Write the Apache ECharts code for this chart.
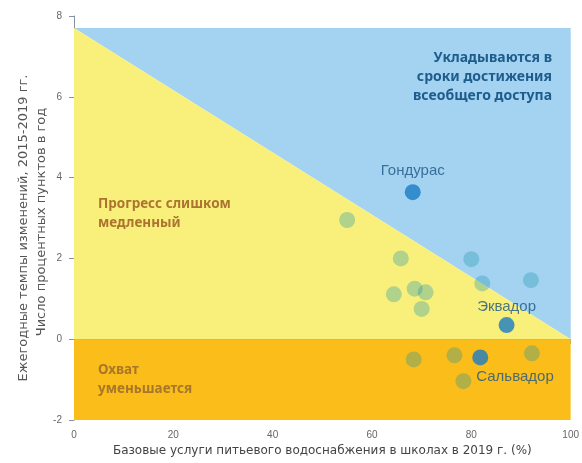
<!DOCTYPE html>
<html>
<head>
<meta charset="utf-8">
<script src="https://cdn.jsdelivr.net/npm/echarts@6/dist/echarts.min.js"></script>
<style>
	html, body { margin: 0; padding: 0; background: #fff; }
	#chart { width: 582px; height: 463px; }
</style>
</head>
<body>
<div id="chart"></div>
<script>
// zones (x = coverage %, y = annual change)
var zoneOnTrack = [[0, 7.7], [100, 7.7], [100, 0]];
var zoneSlow = [[0, 7.7], [100, 0], [0, 0]];
var zoneDecline = [[0, 0], [100, 0], [100, -2], [0, -2]];

// other countries
var otherPoints = [
	[55, 2.95], [65.8, 2.0], [64.4, 1.11], [68.6, 1.25], [70.8, 1.16], [70, 0.75],
	[80, 1.98], [82.2, 1.38], [92, 1.46],
	[68.4, -0.5], [76.6, -0.4], [78.4, -1.04], [92.2, -0.35]
];

// highlighted countries
var highlightNames = ['Гондурас', 'Эквадор', 'Сальвадор'];
var highlightValues = [[68.2, 3.64], [87.1, 0.35], [81.8, -0.45]];

var myChart = echarts.init(document.getElementById('chart'));

function zoneSeries(points, color) {
	return {
		type: 'custom',
		silent: true,
		z: 1,
		data: [0],
		renderItem: function(params, api) {
			var pts = points.map(function(p) { return api.coord(p); });
			return {
				type: 'polygon',
				shape: { points: pts },
				style: { fill: color }
			};
		}
	};
}

var labelColor = '#1d5585';
var highlightData = highlightValues.map(function(v, i) {
	var item = { name: highlightNames[i], value: v };
	if (i === 2) {
		item.label = { position: [4, 20], align: 'left', verticalAlign: 'top' };
	} else if (i === 1) {
		item.label = { position: 'top', distance: 3 };
	}
	return item;
});

var fontFamily = '"Liberation Sans", Arial, sans-serif';
var titleFont = '"DejaVu Sans", sans-serif';
var zoneFont = '"Noto Sans", "DejaVu Sans", sans-serif';

myChart.setOption({
	animation: false,
	grid: { left: 74, right: 7, top: 16, bottom: 43 },
	xAxis: {
		type: 'value',
		min: 0,
		max: 100,
		interval: 20,
		splitLine: { show: false },
		axisLine: { lineStyle: { color: '#8a90a4' } },
		axisTick: { show: true, length: 5, lineStyle: { color: '#8a90a4' } },
		axisLabel: { color: '#666', fontSize: 10, margin: 10, fontFamily: fontFamily },
		name: 'Базовые услуги питьевого водоснабжения в школах в 2019 г. (%)',
		nameLocation: 'middle',
		nameGap: 25,
		nameTextStyle: { color: '#444', fontSize: 12, fontFamily: titleFont }
	},
	yAxis: {
		type: 'value',
		min: -2,
		max: 8,
		interval: 2,
		splitLine: { show: false },
		axisLine: { show: true, lineStyle: { color: '#8a90a4' } },
		axisTick: { show: true, length: 5, lineStyle: { color: '#8a90a4' } },
		axisLabel: { color: '#666', fontSize: 10, margin: 12, fontFamily: fontFamily }
	},
	graphic: [
		{
			type: 'text', x: 24, y: 228, rotation: Math.PI / 2,
			style: {
				text: 'Ежегодные темпы изменений, 2015-2019 гг.',
				fill: '#555', font: '13px ' + titleFont,
				align: 'center', verticalAlign: 'middle'
			}
		},
		{
			type: 'text', x: 42, y: 222, rotation: Math.PI / 2,
			style: {
				text: 'Число процентных пунктов в год',
				fill: '#555', font: '13px ' + titleFont,
				align: 'center', verticalAlign: 'middle'
			}
		},
		{
			type: 'text', x: 552, y: 77, z: 10,
			style: {
				text: 'Укладываются в\nсроки достижения\nвсеобщего доступа',
				fill: '#1d5c8c', font: 'bold 14px ' + zoneFont,
				align: 'right', verticalAlign: 'middle', lineHeight: 19
			}
		},
		{
			type: 'text', x: 98, y: 214, z: 10,
			style: {
				text: 'Прогресс слишком\nмедленный',
				fill: '#ab7530', font: 'bold 13.5px ' + zoneFont,
				align: 'left', verticalAlign: 'middle', lineHeight: 19
			}
		},
		{
			type: 'text', x: 98, y: 380, z: 10,
			style: {
				text: 'Охват\nуменьшается',
				fill: '#a8772a', font: 'bold 13.5px ' + zoneFont,
				align: 'left', verticalAlign: 'middle', lineHeight: 19
			}
		}
	],
	series: [
		zoneSeries(zoneOnTrack, '#a3d3f0'),
		zoneSeries(zoneSlow, '#f9f07c'),
		zoneSeries(zoneDecline, '#fbbd19'),
		{
			type: 'scatter',
			z: 3,
			symbolSize: 16,
			itemStyle: { color: 'rgba(25,147,170,0.4)' },
			data: otherPoints
		},
		{
			type: 'scatter',
			z: 4,
			symbolSize: 16,
			itemStyle: { color: '#1a7cc4' },
			label: {
				show: true,
				position: 'top',
				distance: 6,
				formatter: '{b}',
				color: labelColor,
				fontSize: 15,
				fontFamily: fontFamily
			},
			data: highlightData
		}
	]
});
</script>
</body>
</html>
